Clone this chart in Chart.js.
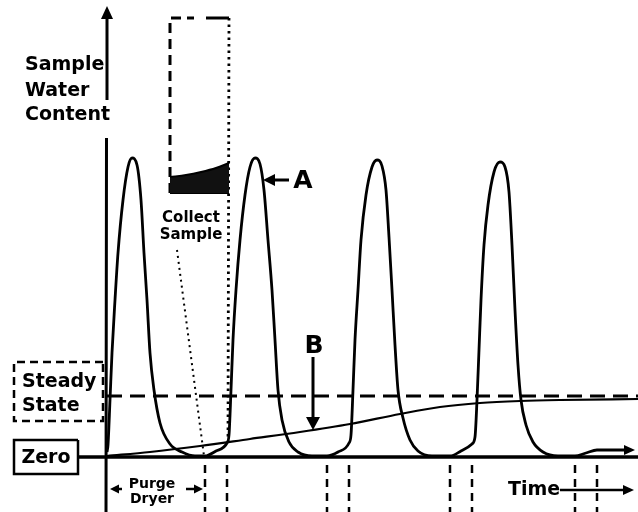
<!DOCTYPE html>
<html>
<head>
<meta charset="utf-8">
<script src="https://cdn.jsdelivr.net/npm/chart.js@4.4.1/dist/chart.umd.min.js"></script>
<style>
  html, body { margin: 0; padding: 0; background: #fff; }
  #chart { display: block; }
</style>
</head>
<body>
<canvas id="chart" width="638" height="512"></canvas>
<script>
// sample water content vs time (arbitrary units)
const signalTime = [0.1, 0.2, 0.4, 0.6, 0.9, 1.2, 1.7, 2.2, 2.6, 3.1, 3.5, 3.8, 4.1, 4.4, 4.8, 5.4, 6.4, 7.6, 8.9, 9.9, 11.0, 12.1,
  12.3, 12.5, 12.7, 13.0, 13.4, 13.9, 14.4, 14.9, 15.4, 15.8, 16.2, 16.6, 16.9, 17.2, 17.6, 18.3, 19.2, 20.6, 22.1, 23.2, 24.3,
  24.5, 24.7, 24.9, 25.2, 25.5, 26.0, 26.6, 27.1, 27.6, 28.0, 28.3, 28.6, 28.9, 29.2, 29.7, 30.4, 31.2, 32.6, 34.4, 35.5, 36.6,
  36.9, 37.1, 37.3, 37.5, 37.8, 38.2, 38.8, 39.4, 39.9, 40.3, 40.6, 40.9, 41.2, 41.5, 42.0, 42.7, 43.7, 45.2, 46.9, 48.0, 49.1,
  50.6, 52.2];
const signalContent = [0.5, 1.2, 5.7, 10.4, 15.7, 20.4, 25.7, 29.0, 29.9, 29.2, 25.7, 20.4, 15.7, 10.4, 6.7, 3.4, 1.3, 0.5, 0.1, 0.1, 0.6, 1.4,
  2.2, 6.7, 11.7, 16.7, 21.7, 26.2, 29.0, 29.9, 29.3, 26.7, 21.7, 16.7, 11.7, 6.7, 3.7, 1.5, 0.5, 0.1, 0.1, 0.5, 1.4,
  2.2, 6.7, 11.7, 16.7, 21.7, 26.2, 29.0, 29.7, 29.1, 26.7, 22.0, 16.7, 11.2, 6.7, 3.9, 1.7, 0.6, 0.1, 0.1, 0.6, 1.3,
  2.0, 5.7, 10.7, 15.7, 21.2, 25.2, 28.5, 29.5, 29.0, 26.5, 21.2, 14.7, 9.2, 5.7, 3.2, 1.5, 0.5, 0.1, 0.1, 0.4, 0.7,
  0.7, 0.7];

// curve B: dryer outlet creeping up to steady state
const curveBTime = [0.1, 4.4, 9.4, 14.4, 19.4, 24.4, 29.4, 33.4, 37.4, 41.4, 45.4, 53.2];
const curveBContent = [0.1, 0.5, 1.1, 1.8, 2.5, 3.3, 4.3, 5.0, 5.4, 5.6, 5.7, 5.8];

const steadyState = 6.1;
const purgeStart = [9.9, 22.1, 34.4, 46.9];
const purgeEnd = [12.1, 24.3, 36.6, 49.1];

// magnified collected sample
const sampleTime = [6.4, 8.0, 9.5, 11.0, 12.3];
const sampleContent = [28.0, 28.2, 28.5, 28.9, 29.4];
const sampleFloor = 26.4;

const X_MIN = -10.6, X_MAX = 53.2, Y_MIN = -5.5, Y_MAX = 45.7;

const pts = (xs, ys) => xs.map((x, i) => ({ x: x, y: ys[i] }));

const purgeLines = [];
purgeStart.forEach((s, i) => {
  purgeLines.push({ x: s, y: -0.8 }, { x: s, y: Y_MIN }, { x: s, y: null });
  purgeLines.push({ x: purgeEnd[i], y: -0.8 }, { x: purgeEnd[i], y: Y_MIN }, { x: purgeEnd[i], y: null });
});

const line = (data, extra) => Object.assign({
  data: data, showLine: true, pointRadius: 0, borderColor: '#000', borderWidth: 2.5,
  tension: 0, fill: false, spanGaps: false
}, extra || {});

const labels = [
  { text: 'Sample', x: -8.1, y: 38.7, size: 19, align: 'left' },
  { text: 'Water', x: -8.1, y: 36.1, size: 19, align: 'left' },
  { text: 'Content', x: -8.1, y: 33.7, size: 19, align: 'left' },
  { text: 'Collect', x: 8.5, y: 23.5, size: 15, align: 'center' },
  { text: 'Sample', x: 8.5, y: 21.8, size: 15, align: 'center' },
  { text: 'A', x: 19.7, y: 26.9, size: 25, align: 'center' },
  { text: 'B', x: 20.8, y: 10.4, size: 25, align: 'center' },
  { text: 'Steady', x: -8.4, y: 7.0, size: 19, align: 'left' },
  { text: 'State', x: -8.4, y: 4.6, size: 19, align: 'left' },
  { text: 'Zero', x: -6.0, y: -0.6, size: 19, align: 'center' },
  { text: 'Purge', x: 4.6, y: -3.1, size: 14, align: 'center' },
  { text: 'Dryer', x: 4.6, y: -4.6, size: 14, align: 'center' },
  { text: 'Time', x: 40.2, y: -3.8, size: 19, align: 'left' }
];

const arrows = [
  { from: [0.1, 43.0], to: [0.1, 45.1], len: 13, half: 6, shaft: 0 },
  { from: [18.3, 27.7], to: [15.7, 27.7], len: 12, half: 6, shaft: 3 },
  { from: [20.7, 10.0], to: [20.7, 2.7], len: 13, half: 7, shaft: 3 },
  { from: [1.6, -3.2], to: [0.4, -3.2], len: 9, half: 4.5, shaft: 2.5 },
  { from: [8.0, -3.2], to: [9.7, -3.2], len: 9, half: 4.5, shaft: 2.5 },
  { from: [45.4, -3.3], to: [52.8, -3.3], len: 11, half: 5, shaft: 2.5 },
  { from: [52.0, 0.7], to: [52.9, 0.7], len: 11, half: 5, shaft: 0 }
];

const annotate = {
  id: 'annotate',
  afterDatasetsDraw(chart) {
    const ctx = chart.ctx;
    const sx = chart.scales.x, sy = chart.scales.y;
    ctx.save();
    ctx.fillStyle = '#000';
    ctx.strokeStyle = '#000';
    arrows.forEach(a => {
      const x1 = sx.getPixelForValue(a.from[0]), y1 = sy.getPixelForValue(a.from[1]);
      const x2 = sx.getPixelForValue(a.to[0]), y2 = sy.getPixelForValue(a.to[1]);
      const ang = Math.atan2(y2 - y1, x2 - x1);
      if (a.shaft) {
        ctx.lineWidth = a.shaft;
        ctx.beginPath();
        ctx.moveTo(x1, y1);
        ctx.lineTo(x2 - Math.cos(ang) * a.len * 0.8, y2 - Math.sin(ang) * a.len * 0.8);
        ctx.stroke();
      }
      ctx.beginPath();
      ctx.moveTo(x2, y2);
      ctx.lineTo(x2 - Math.cos(ang) * a.len - Math.sin(ang) * a.half, y2 - Math.sin(ang) * a.len + Math.cos(ang) * a.half);
      ctx.lineTo(x2 - Math.cos(ang) * a.len + Math.sin(ang) * a.half, y2 - Math.sin(ang) * a.len - Math.cos(ang) * a.half);
      ctx.closePath();
      ctx.fill();
    });
    ctx.textBaseline = 'alphabetic';
    labels.forEach(l => {
      ctx.font = 'bold ' + l.size + 'px "DejaVu Sans", sans-serif';
      ctx.textAlign = l.align;
      ctx.fillText(l.text, sx.getPixelForValue(l.x), sy.getPixelForValue(l.y));
    });
    ctx.restore();
  }
};

new Chart(document.getElementById('chart'), {
  type: 'scatter',
  data: {
    datasets: [
      // zero line
      line([{ x: -2.8, y: 0 }, { x: X_MAX, y: 0 }], { borderWidth: 3.5 }),
      // y axis, broken behind the title
      line([{ x: 0, y: Y_MIN }, { x: 0.05, y: 31.9 }, { x: 0.1, y: null }, { x: 0.1, y: 35.7 }, { x: 0.1, y: 44.0 }], { borderWidth: 3 }),
      // steady state
      line([{ x: 0.1, y: steadyState }, { x: X_MAX, y: steadyState }], { borderWidth: 3, borderDash: [15, 8] }),
      // curve B
      line(pts(curveBTime, curveBContent), { borderWidth: 2.2, cubicInterpolationMode: 'monotone' }),
      // water content signal
      line(pts(signalTime, signalContent), { borderWidth: 2.8, cubicInterpolationMode: 'monotone' }),
      // collected sample (shaded)
      line(pts(sampleTime, sampleContent), {
        borderWidth: 2, cubicInterpolationMode: 'monotone',
        fill: { value: sampleFloor }, backgroundColor: '#111'
      }),
      line([{ x: 6.4, y: sampleFloor }, { x: 12.3, y: sampleFloor }], { borderWidth: 2 }),
      // collect sample box
      line([{ x: 6.4, y: sampleFloor }, { x: 6.4, y: 43.9 }, { x: 8.8, y: 43.9 }], { borderWidth: 3, borderDash: [10, 6] }),
      line([{ x: 10.0, y: 43.9 }, { x: 12.3, y: 43.9 }], { borderWidth: 3 }),
      line([{ x: 12.3, y: 43.9 }, { x: 12.2, y: 1.4 }], { borderWidth: 2.8, borderDash: [2.5, 4] }),
      line([{ x: 7.1, y: 20.7 }, { x: 9.8, y: 0.1 }], { borderWidth: 2, borderDash: [2, 4] }),
      // purge dryer markers below the time axis
      line(purgeLines, { borderWidth: 2.5, borderDash: [8, 6] }),
      // steady state box
      line([{ x: -0.3, y: 9.5 }, { x: -9.2, y: 9.5 }, { x: -9.2, y: 3.6 }, { x: -0.3, y: 3.6 }, { x: -0.3, y: 9.5 }],
        { borderWidth: 2.5, borderDash: [8, 5] }),
      // zero box
      line([{ x: -2.8, y: 1.7 }, { x: -9.2, y: 1.7 }, { x: -9.2, y: -1.7 }, { x: -2.8, y: -1.7 }, { x: -2.8, y: 1.7 }],
        { borderWidth: 2.5 })
    ]
  },
  options: {
    responsive: false,
    animation: false,
    layout: { padding: 0 },
    scales: {
      x: { type: 'linear', min: X_MIN, max: X_MAX, display: false },
      y: { type: 'linear', min: Y_MIN, max: Y_MAX, display: false }
    },
    plugins: { legend: { display: false }, tooltip: { enabled: false } }
  },
  plugins: [annotate]
});
</script>
</body>
</html>
